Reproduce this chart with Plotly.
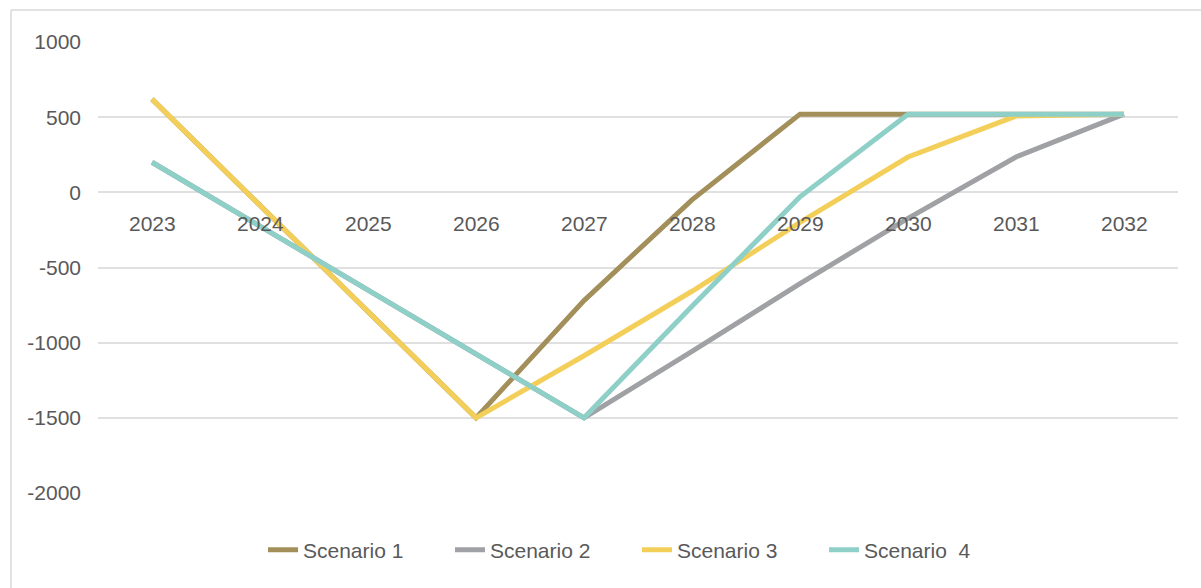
import plotly.graph_objects as go

years = ["2023", "2024", "2025", "2026", "2027", "2028", "2029", "2030", "2031", "2032"]
scenario_1 = [620, -87, -793, -1500, -720, -50, 520, 520, 520, 520]
scenario_2 = [200, -225, -650, -1075, -1500, -1058, -607, -173, 235, 520]
scenario_3 = [620, -87, -793, -1500, -1087, -658, -200, 235, 507, 520]
scenario_4 = [200, -225, -650, -1075, -1500, -758, -30, 520, 520, 520]
names = ["Scenario 1", "Scenario 2", "Scenario 3", "Scenario  4"]
colors = ["#A28F5A", "#A0A1A4", "#F3CF5A", "#8ECFC7"]
y_ticks = [1000, 500, 0, -500, -1000, -1500, -2000]

W, H = 1201, 588
L, R, T, B = 98, 23, 42, 95
pw, ph = W - L - R, H - T - B

font_family = "Liberation Sans, Arial, sans-serif"
text_color = "#595959"

fig = go.Figure()
for name, vals, col in zip(names, [scenario_1, scenario_2, scenario_3, scenario_4], colors):
    fig.add_trace(go.Scatter(x=years, y=vals, mode="lines", name=name,
                             line=dict(color=col, width=5)))

# category labels sitting just below the zero line
for i, yr in enumerate(years):
    fig.add_annotation(x=i, y=0, xref="x", yref="y", text=yr, showarrow=False,
                       yshift=-31, font=dict(family=font_family, size=21, color=text_color))

def px_x(p):
    return (p - L) / pw

def px_y(p):
    return (H - B - p) / ph

# chart frame (left and top edges)
fig.add_shape(type="line", xref="paper", yref="paper", x0=px_x(11), x1=px_x(1210),
              y0=px_y(10), y1=px_y(10), line=dict(color="#D9D9D9", width=1.5))
fig.add_shape(type="line", xref="paper", yref="paper", x0=px_x(11), x1=px_x(11),
              y0=px_y(10), y1=px_y(600), line=dict(color="#D9D9D9", width=1.5))

fig.update_layout(
    width=W, height=H,
    margin=dict(l=L, r=R, t=T, b=B),
    paper_bgcolor="white", plot_bgcolor="white",
    font=dict(family=font_family, size=21, color=text_color),
    xaxis=dict(type="category", showticklabels=False, showgrid=False, zeroline=False,
               showline=False, ticks="", range=[-0.5, 9.5], fixedrange=True),
    yaxis=dict(range=[-2000, 1000], tickvals=y_ticks, ticktext=[str(v) for v in y_ticks],
               showgrid=True, gridcolor="#E0E0E0", gridwidth=2, zeroline=False,
               showline=False, ticks="", ticklabelstandoff=16,
               tickfont=dict(family=font_family, size=21, color=text_color)),
    showlegend=True,
    legend=dict(orientation="h", x=px_x(263), xanchor="left", y=px_y(550), yanchor="middle",
                font=dict(family=font_family, size=21, color=text_color),
                entrywidth=142, entrywidthmode="pixels", itemwidth=30,
                bgcolor="rgba(0,0,0,0)"),
)

fig.write_html("out.html")
